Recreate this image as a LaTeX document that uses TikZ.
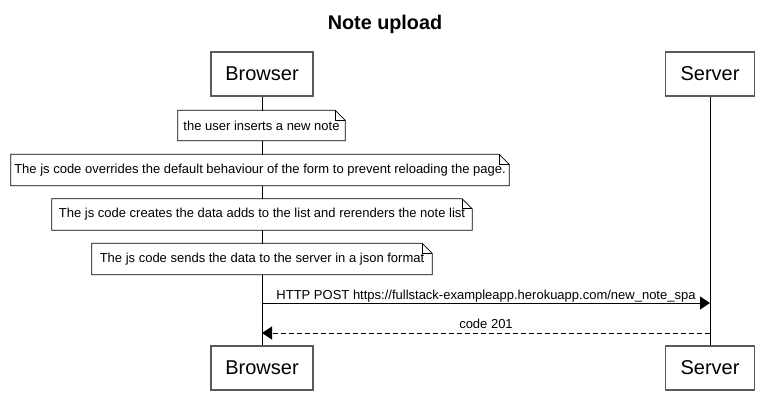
\documentclass[tikz,border=0pt]{standalone}
\usepackage{fontspec}
\setmainfont{Liberation Sans}
\usetikzlibrary{arrows.meta,calc}
\definecolor{boxline}{RGB}{90,90,90}
\tikzset{
  actor/.style={draw=boxline, line width=1.3pt, fill=white, minimum width=102pt, minimum height=44pt, inner sep=0pt, font=\fontsize{20}{24}\selectfont},
  sactor/.style={actor, minimum width=89pt},
  notebox/.style={fill=white, inner sep=0pt, font=\fontsize{13}{15}\selectfont},
  noteline/.style={draw=black, line width=0.8pt},
  life/.style={draw=black, line width=0.9pt},
  msg/.style={draw=black, line width=0.9pt, -{Triangle[length=10pt,width=13pt]}},
  reply/.style={msg, dash pattern=on 5pt off 3pt},
  msglabel/.style={anchor=base, inner sep=0pt, font=\fontsize{13}{15}\selectfont}
}
\begin{document}
\begin{tikzpicture}[x=1pt,y=-1pt]
\useasboundingbox (0,0) rectangle (769,415);
\fill[white] (0,0) rectangle (769,415);
\node[anchor=base, font=\bfseries\fontsize{19.8}{24}\selectfont] (title) at (385,29) {Note upload};
% actors
\node[actor] (bt) at (262,74) {Browser};
\node[sactor] (st) at (710,74) {Server};
\node[actor] (bb) at (262,368) {Browser};
\node[sactor] (sb) at (710,368) {Server};
% lifelines
\draw[life] (bt.south) -- (bb.north);
\draw[life] (st.south) -- (sb.north);
% notes
\node[notebox, minimum width=167pt, minimum height=30pt] (n1) at (261.5,125.5) {the user inserts a new note};
\node[notebox, minimum width=498pt, minimum height=31pt] (n2) at (260,170) {The js code overrides the default behaviour of the form to prevent reloading the page.};
\node[notebox, minimum width=420pt, minimum height=31pt] (n3) at (262,214.5) {The js code creates the data adds to the list and rerenders the note list};
\node[notebox, minimum width=340pt, minimum height=31pt] (n4) at (262,259) {The js code sends the data to the server in a json format};
\foreach \n in {n1,n2,n3,n4}{
  \draw[noteline] (\n.south west) -- (\n.north west) -- ($(\n.north east)+(-10,0)$) -- ($(\n.north east)+(0,10)$) -- (\n.south east) -- cycle;
  \draw[noteline] ($(\n.north east)+(-10,0)$) -- ($(\n.north east)+(-10,10)$) -- ($(\n.north east)+(0,10)$);
}
% messages
\coordinate (m1s) at (262,303);
\coordinate (m1e) at (710,303);
\coordinate (m2s) at (710,333);
\coordinate (m2e) at (262,333);
\draw[msg] (m1s) -- (m1e);
\draw[reply] (m2s) -- (m2e);
\node[msglabel] (l1) at (486,299) {HTTP POST https://fullstack-exampleapp.herokuapp.com/new\_note\_spa};
\node[msglabel] (l2) at (486,328) {code 201};
\end{tikzpicture}
\end{document}
